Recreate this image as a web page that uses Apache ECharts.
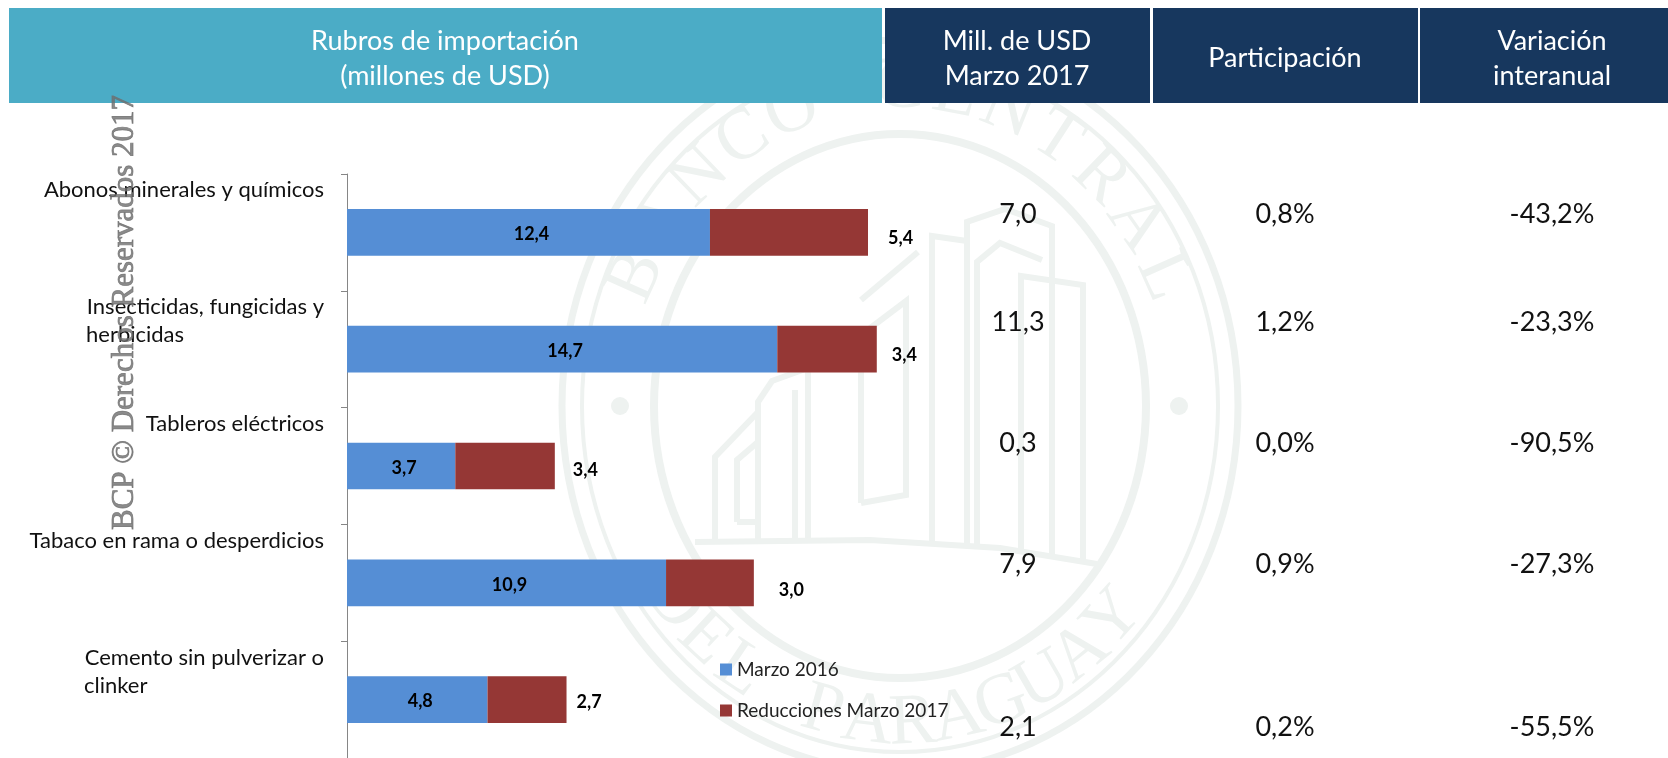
<!DOCTYPE html>
<html>
<head>
<meta charset="utf-8">
<title>Rubros de importación</title>
<script src="https://cdn.jsdelivr.net/npm/echarts@6/dist/echarts.min.js"></script>
<style>
html, body { margin: 0; padding: 0; background: #fff; }
#chart { width: 1668px; height: 758px; }
</style>
</head>
<body>
<div id="chart"></div>
<script>
const categories = [
  ["Abonos minerales y químicos"],
  ["Insecticidas, fungicidas y", "herbicidas"],
  ["Tableros eléctricos"],
  ["Tabaco en rama o desperdicios"],
  ["Cemento sin pulverizar o", "clinker"]
];
const marzo2016 = [12.4, 14.7, 3.7, 10.9, 4.8];
const reducciones = [5.4, 3.4, 3.4, 3.0, 2.7];
const millones = ["7,0", "11,3", "0,3", "7,9", "2,1"];
const participacion = ["0,8%", "1,2%", "0,0%", "0,9%", "0,2%"];
const variacion = ["-43,2%", "-23,3%", "-90,5%", "-27,3%", "-55,5%"];

// layout
const rowY = [214, 322, 443, 564, 727];
const redLabelOffset = [[20, 6], [15, 6], [18, 4], [25, 7], [10, 3]];
const FONT = "Lato";
const SEAL = "#eef2f0";

// sello de fondo
const cx = 900, cy = 406;
function sealRing(rx, ry, w) {
  return { type: "ellipse", z: 0, silent: true, shape: { cx: cx, cy: cy, rx: rx, ry: ry },
    style: { fill: "none", stroke: SEAL, lineWidth: w } };
}
function sealDot(x) {
  return { type: "circle", z: 0, silent: true, shape: { cx: x, cy: cy, r: 9 }, style: { fill: SEAL } };
}
function sealLetters(text, fromDeg, toDeg, bottom) {
  const out = [];
  const chars = text.split("");
  chars.forEach(function (c, i) {
    if (c === " ") return;
    const deg = fromDeg + (toDeg - fromDeg) * i / (chars.length - 1);
    const a = deg * Math.PI / 180;
    const sign = bottom ? -1 : 1;
    out.push({
      type: "text", z: 0, silent: true,
      x: cx + 288 * Math.sin(a),
      y: cy - sign * 318 * Math.cos(a),
      rotation: bottom ? a : -a,
      style: { text: c, font: "72px 'Liberation Serif'", fill: SEAL, align: "center", verticalAlign: "middle" }
    });
  });
  return out;
}
// building outline, in px relative to the seal box
const buildingLines = [
  [[715, 540], [715, 457], [758, 412]],
  [[737, 522], [737, 460], [758, 442], [758, 522], [737, 522]],
  [[758, 540], [758, 402], [772, 381], [808, 368], [808, 540]],
  [[795, 540], [795, 390]],
  [[861, 503], [861, 335], [906, 301], [906, 495], [861, 503]],
  [[861, 300], [918, 252]],
  [[932, 543], [932, 236], [967, 241]],
  [[967, 545], [967, 222], [1005, 209], [1052, 226], [1052, 557]],
  [[977, 545], [977, 262], [1000, 243], [1042, 260]],
  [[1021, 550], [1021, 276], [1083, 285], [1083, 564]],
  [[695, 542], [870, 540], [1000, 548], [1097, 564]]
];
const sealElements = [
  sealRing(338, 366, 7), sealRing(318, 346, 4), sealRing(246, 272, 8),
  sealDot(620), sealDot(1179)
].concat(sealLetters("BANCO CENTRAL", -66, 66, false))
 .concat(sealLetters("DEL PARAGUAY", -52, 48, true))
 .concat(buildingLines.map(function (pts) {
   return { type: "polyline", z: 0, silent: true, shape: { points: pts },
     style: { fill: "none", stroke: SEAL, lineWidth: 6 } };
 }));

function headRect(x, w, color) {
  return { type: "rect", z: 1, silent: true, shape: { x: x, y: 8, width: w, height: 95 }, style: { fill: color } };
}
function cellText(text, x, y, size) {
  return { type: "text", z: 5, silent: true, x: x, y: y,
    style: { text: text, font: size + "px " + FONT, fill: "#111", align: "center", verticalAlign: "middle" } };
}
function headText(text, x, y) {
  const el = cellText(text, x, y, 27);
  el.style.fill = "#fff";
  return el;
}

const tableElements = [
  headRect(9, 873, "#4BACC6"), headRect(885, 265, "#17375E"),
  headRect(1153, 265, "#17375E"), headRect(1420, 248, "#17375E"),
  headText("Rubros de importación", 445, 41), headText("(millones de USD)", 445, 76),
  headText("Mill. de USD", 1017, 41), headText("Marzo 2017", 1017, 76),
  headText("Participación", 1285, 58),
  headText("Variación", 1552, 41), headText("interanual", 1552, 76)
];
rowY.forEach(function (y, i) {
  tableElements.push(cellText(millones[i], 1018, y, 27));
  tableElements.push(cellText(participacion[i], 1285, y, 27));
  tableElements.push(cellText(variacion[i], 1552, y, 27));
});

const stamp = {
  type: "text", z: 100, silent: true, x: 125, y: 530, rotation: Math.PI / 2,
  style: { text: "BCP © Derechos Reservados 2017", font: "31px 'Liberation Serif'",
    fill: "rgba(110,110,110,0.8)", stroke: "rgba(110,110,110,0.8)", lineWidth: 0.8,
    align: "left", verticalAlign: "middle" }
};

const commaFmt = function (p) {
  const v = typeof p.value === "number" ? p.value : p.value.value;
  return v.toFixed(1).replace(".", ",");
};

// second lines start under the first one, so their token is as wide as the first line
const LABEL_SIZE = 22;
const measure = document.createElement("canvas").getContext("2d");
measure.font = LABEL_SIZE + "px " + FONT;
const labelRich = { l: { fontFamily: FONT, fontSize: LABEL_SIZE, lineHeight: 28, color: "#111" } };
categories.forEach(function (c, i) {
  labelRich["w" + i] = { fontFamily: FONT, fontSize: LABEL_SIZE, lineHeight: 28, color: "#111",
    align: "left", width: Math.ceil(measure.measureText(c[0]).width) };
});

const myChart = echarts.init(document.getElementById("chart"));
myChart.setOption({
  animation: false,
  backgroundColor: "#fff",
  textStyle: { fontFamily: FONT },
  graphic: { elements: sealElements.concat(tableElements).concat([stamp]) },
  legend: {
    orient: "vertical", left: 720, top: 660, padding: 0, itemWidth: 12, itemHeight: 12, itemGap: 22,
    icon: "rect", itemStyle: { borderWidth: 0 },
    textStyle: { fontFamily: FONT, fontSize: 19, color: "#222" },
    data: ["Marzo 2016", "Reducciones Marzo 2017"]
  },
  grid: { left: 347, top: 174, width: 585.4, height: 584 },
  xAxis: { type: "value", min: 0, max: 20, show: false },
  yAxis: {
    type: "category", inverse: true,
    data: categories.map(function (c) { return c.join("|"); }),
    axisLine: { lineStyle: { color: "#868686", width: 1 } },
    axisTick: { show: true, length: 6, lineStyle: { color: "#868686", width: 1 } },
    axisLabel: {
      interval: 0, margin: 23, verticalAlign: "bottom",
      formatter: function (v, idx) {
        const lines = v.split("|");
        // always two lines so the first one sits at the top of the band
        return "{l|" + lines[0] + "}\n{w" + idx + "|" + (lines[1] || " ") + "}";
      },
      rich: labelRich
    }
  },
  series: [
    {
      name: "Marzo 2016", type: "bar", stack: "total", barWidth: 46.7,
      itemStyle: { color: "#558ED5" },
      label: { show: true, position: "inside", offset: [3, 2], formatter: commaFmt,
        fontFamily: FONT, fontWeight: "bold", fontSize: 18, color: "#000" },
      data: marzo2016
    },
    {
      name: "Reducciones Marzo 2017", type: "bar", stack: "total", barWidth: 46.7,
      itemStyle: { color: "#953735" },
      label: { show: true, position: "right", distance: 0, formatter: commaFmt,
        fontFamily: FONT, fontWeight: "bold", fontSize: 18, color: "#000" },
      data: reducciones.map(function (v, i) {
        return { value: v, label: { offset: redLabelOffset[i] } };
      })
    }
  ]
});
</script>
</body>
</html>
